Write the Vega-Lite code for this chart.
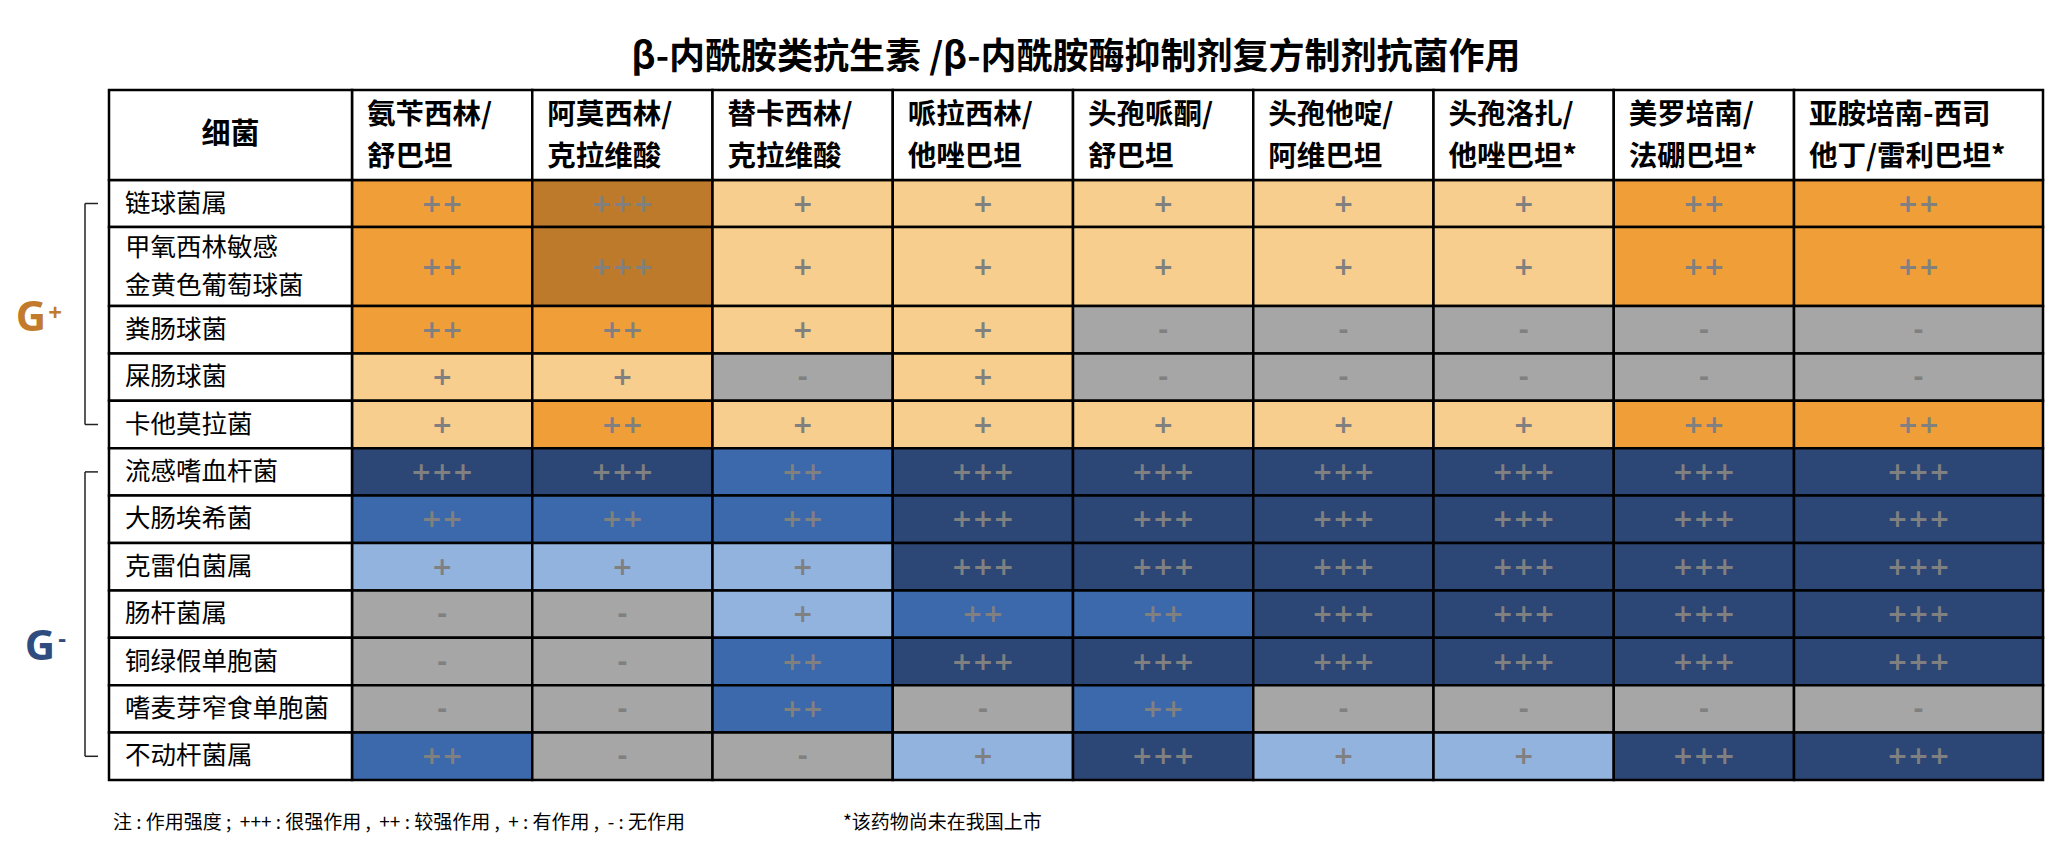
{
  "$schema": "https://vega.github.io/schema/vega-lite/v6.json",
  "width": 1934,
  "height": 690,
  "autosize": {"type": "none"},
  "padding": {"left": 109, "top": 90, "right": 19, "bottom": 68},
  "background": "white",
  "config": {
    "view": {"stroke": null},
    "font": "Noto Sans CJK SC",
    "axis": {"disable": true},
    "legend": {"disable": true}
  },
  "title": {
    "text": "β-内酰胺类抗生素 /β-内酰胺酶抑制剂复方制剂抗菌作用",
    "font": "Noto Sans CJK SC",
    "fontSize": 36,
    "fontWeight": "bold",
    "color": "#000000",
    "anchor": "middle",
    "offset": 12
  },
  "data": {
    "values": [
      {"bacteria": "链球菌属", "group": "G+", "drug": "氨苄西林/\n舒巴坦", "effect": "++"},
      {"bacteria": "链球菌属", "group": "G+", "drug": "阿莫西林/\n克拉维酸", "effect": "+++"},
      {"bacteria": "链球菌属", "group": "G+", "drug": "替卡西林/\n克拉维酸", "effect": "+"},
      {"bacteria": "链球菌属", "group": "G+", "drug": "哌拉西林/\n他唑巴坦", "effect": "+"},
      {"bacteria": "链球菌属", "group": "G+", "drug": "头孢哌酮/\n舒巴坦", "effect": "+"},
      {"bacteria": "链球菌属", "group": "G+", "drug": "头孢他啶/\n阿维巴坦", "effect": "+"},
      {"bacteria": "链球菌属", "group": "G+", "drug": "头孢洛扎/\n他唑巴坦*", "effect": "+"},
      {"bacteria": "链球菌属", "group": "G+", "drug": "美罗培南/\n法硼巴坦*", "effect": "++"},
      {"bacteria": "链球菌属", "group": "G+", "drug": "亚胺培南-西司\n他丁/雷利巴坦*", "effect": "++"},

      {"bacteria": "甲氧西林敏感\n金黄色葡萄球菌", "group": "G+", "drug": "氨苄西林/\n舒巴坦", "effect": "++"},
      {"bacteria": "甲氧西林敏感\n金黄色葡萄球菌", "group": "G+", "drug": "阿莫西林/\n克拉维酸", "effect": "+++"},
      {"bacteria": "甲氧西林敏感\n金黄色葡萄球菌", "group": "G+", "drug": "替卡西林/\n克拉维酸", "effect": "+"},
      {"bacteria": "甲氧西林敏感\n金黄色葡萄球菌", "group": "G+", "drug": "哌拉西林/\n他唑巴坦", "effect": "+"},
      {"bacteria": "甲氧西林敏感\n金黄色葡萄球菌", "group": "G+", "drug": "头孢哌酮/\n舒巴坦", "effect": "+"},
      {"bacteria": "甲氧西林敏感\n金黄色葡萄球菌", "group": "G+", "drug": "头孢他啶/\n阿维巴坦", "effect": "+"},
      {"bacteria": "甲氧西林敏感\n金黄色葡萄球菌", "group": "G+", "drug": "头孢洛扎/\n他唑巴坦*", "effect": "+"},
      {"bacteria": "甲氧西林敏感\n金黄色葡萄球菌", "group": "G+", "drug": "美罗培南/\n法硼巴坦*", "effect": "++"},
      {"bacteria": "甲氧西林敏感\n金黄色葡萄球菌", "group": "G+", "drug": "亚胺培南-西司\n他丁/雷利巴坦*", "effect": "++"},

      {"bacteria": "粪肠球菌", "group": "G+", "drug": "氨苄西林/\n舒巴坦", "effect": "++"},
      {"bacteria": "粪肠球菌", "group": "G+", "drug": "阿莫西林/\n克拉维酸", "effect": "++"},
      {"bacteria": "粪肠球菌", "group": "G+", "drug": "替卡西林/\n克拉维酸", "effect": "+"},
      {"bacteria": "粪肠球菌", "group": "G+", "drug": "哌拉西林/\n他唑巴坦", "effect": "+"},
      {"bacteria": "粪肠球菌", "group": "G+", "drug": "头孢哌酮/\n舒巴坦", "effect": "-"},
      {"bacteria": "粪肠球菌", "group": "G+", "drug": "头孢他啶/\n阿维巴坦", "effect": "-"},
      {"bacteria": "粪肠球菌", "group": "G+", "drug": "头孢洛扎/\n他唑巴坦*", "effect": "-"},
      {"bacteria": "粪肠球菌", "group": "G+", "drug": "美罗培南/\n法硼巴坦*", "effect": "-"},
      {"bacteria": "粪肠球菌", "group": "G+", "drug": "亚胺培南-西司\n他丁/雷利巴坦*", "effect": "-"},

      {"bacteria": "屎肠球菌", "group": "G+", "drug": "氨苄西林/\n舒巴坦", "effect": "+"},
      {"bacteria": "屎肠球菌", "group": "G+", "drug": "阿莫西林/\n克拉维酸", "effect": "+"},
      {"bacteria": "屎肠球菌", "group": "G+", "drug": "替卡西林/\n克拉维酸", "effect": "-"},
      {"bacteria": "屎肠球菌", "group": "G+", "drug": "哌拉西林/\n他唑巴坦", "effect": "+"},
      {"bacteria": "屎肠球菌", "group": "G+", "drug": "头孢哌酮/\n舒巴坦", "effect": "-"},
      {"bacteria": "屎肠球菌", "group": "G+", "drug": "头孢他啶/\n阿维巴坦", "effect": "-"},
      {"bacteria": "屎肠球菌", "group": "G+", "drug": "头孢洛扎/\n他唑巴坦*", "effect": "-"},
      {"bacteria": "屎肠球菌", "group": "G+", "drug": "美罗培南/\n法硼巴坦*", "effect": "-"},
      {"bacteria": "屎肠球菌", "group": "G+", "drug": "亚胺培南-西司\n他丁/雷利巴坦*", "effect": "-"},

      {"bacteria": "卡他莫拉菌", "group": "G+", "drug": "氨苄西林/\n舒巴坦", "effect": "+"},
      {"bacteria": "卡他莫拉菌", "group": "G+", "drug": "阿莫西林/\n克拉维酸", "effect": "++"},
      {"bacteria": "卡他莫拉菌", "group": "G+", "drug": "替卡西林/\n克拉维酸", "effect": "+"},
      {"bacteria": "卡他莫拉菌", "group": "G+", "drug": "哌拉西林/\n他唑巴坦", "effect": "+"},
      {"bacteria": "卡他莫拉菌", "group": "G+", "drug": "头孢哌酮/\n舒巴坦", "effect": "+"},
      {"bacteria": "卡他莫拉菌", "group": "G+", "drug": "头孢他啶/\n阿维巴坦", "effect": "+"},
      {"bacteria": "卡他莫拉菌", "group": "G+", "drug": "头孢洛扎/\n他唑巴坦*", "effect": "+"},
      {"bacteria": "卡他莫拉菌", "group": "G+", "drug": "美罗培南/\n法硼巴坦*", "effect": "++"},
      {"bacteria": "卡他莫拉菌", "group": "G+", "drug": "亚胺培南-西司\n他丁/雷利巴坦*", "effect": "++"},

      {"bacteria": "流感嗜血杆菌", "group": "G-", "drug": "氨苄西林/\n舒巴坦", "effect": "+++"},
      {"bacteria": "流感嗜血杆菌", "group": "G-", "drug": "阿莫西林/\n克拉维酸", "effect": "+++"},
      {"bacteria": "流感嗜血杆菌", "group": "G-", "drug": "替卡西林/\n克拉维酸", "effect": "++"},
      {"bacteria": "流感嗜血杆菌", "group": "G-", "drug": "哌拉西林/\n他唑巴坦", "effect": "+++"},
      {"bacteria": "流感嗜血杆菌", "group": "G-", "drug": "头孢哌酮/\n舒巴坦", "effect": "+++"},
      {"bacteria": "流感嗜血杆菌", "group": "G-", "drug": "头孢他啶/\n阿维巴坦", "effect": "+++"},
      {"bacteria": "流感嗜血杆菌", "group": "G-", "drug": "头孢洛扎/\n他唑巴坦*", "effect": "+++"},
      {"bacteria": "流感嗜血杆菌", "group": "G-", "drug": "美罗培南/\n法硼巴坦*", "effect": "+++"},
      {"bacteria": "流感嗜血杆菌", "group": "G-", "drug": "亚胺培南-西司\n他丁/雷利巴坦*", "effect": "+++"},

      {"bacteria": "大肠埃希菌", "group": "G-", "drug": "氨苄西林/\n舒巴坦", "effect": "++"},
      {"bacteria": "大肠埃希菌", "group": "G-", "drug": "阿莫西林/\n克拉维酸", "effect": "++"},
      {"bacteria": "大肠埃希菌", "group": "G-", "drug": "替卡西林/\n克拉维酸", "effect": "++"},
      {"bacteria": "大肠埃希菌", "group": "G-", "drug": "哌拉西林/\n他唑巴坦", "effect": "+++"},
      {"bacteria": "大肠埃希菌", "group": "G-", "drug": "头孢哌酮/\n舒巴坦", "effect": "+++"},
      {"bacteria": "大肠埃希菌", "group": "G-", "drug": "头孢他啶/\n阿维巴坦", "effect": "+++"},
      {"bacteria": "大肠埃希菌", "group": "G-", "drug": "头孢洛扎/\n他唑巴坦*", "effect": "+++"},
      {"bacteria": "大肠埃希菌", "group": "G-", "drug": "美罗培南/\n法硼巴坦*", "effect": "+++"},
      {"bacteria": "大肠埃希菌", "group": "G-", "drug": "亚胺培南-西司\n他丁/雷利巴坦*", "effect": "+++"},

      {"bacteria": "克雷伯菌属", "group": "G-", "drug": "氨苄西林/\n舒巴坦", "effect": "+"},
      {"bacteria": "克雷伯菌属", "group": "G-", "drug": "阿莫西林/\n克拉维酸", "effect": "+"},
      {"bacteria": "克雷伯菌属", "group": "G-", "drug": "替卡西林/\n克拉维酸", "effect": "+"},
      {"bacteria": "克雷伯菌属", "group": "G-", "drug": "哌拉西林/\n他唑巴坦", "effect": "+++"},
      {"bacteria": "克雷伯菌属", "group": "G-", "drug": "头孢哌酮/\n舒巴坦", "effect": "+++"},
      {"bacteria": "克雷伯菌属", "group": "G-", "drug": "头孢他啶/\n阿维巴坦", "effect": "+++"},
      {"bacteria": "克雷伯菌属", "group": "G-", "drug": "头孢洛扎/\n他唑巴坦*", "effect": "+++"},
      {"bacteria": "克雷伯菌属", "group": "G-", "drug": "美罗培南/\n法硼巴坦*", "effect": "+++"},
      {"bacteria": "克雷伯菌属", "group": "G-", "drug": "亚胺培南-西司\n他丁/雷利巴坦*", "effect": "+++"},

      {"bacteria": "肠杆菌属", "group": "G-", "drug": "氨苄西林/\n舒巴坦", "effect": "-"},
      {"bacteria": "肠杆菌属", "group": "G-", "drug": "阿莫西林/\n克拉维酸", "effect": "-"},
      {"bacteria": "肠杆菌属", "group": "G-", "drug": "替卡西林/\n克拉维酸", "effect": "+"},
      {"bacteria": "肠杆菌属", "group": "G-", "drug": "哌拉西林/\n他唑巴坦", "effect": "++"},
      {"bacteria": "肠杆菌属", "group": "G-", "drug": "头孢哌酮/\n舒巴坦", "effect": "++"},
      {"bacteria": "肠杆菌属", "group": "G-", "drug": "头孢他啶/\n阿维巴坦", "effect": "+++"},
      {"bacteria": "肠杆菌属", "group": "G-", "drug": "头孢洛扎/\n他唑巴坦*", "effect": "+++"},
      {"bacteria": "肠杆菌属", "group": "G-", "drug": "美罗培南/\n法硼巴坦*", "effect": "+++"},
      {"bacteria": "肠杆菌属", "group": "G-", "drug": "亚胺培南-西司\n他丁/雷利巴坦*", "effect": "+++"},

      {"bacteria": "铜绿假单胞菌", "group": "G-", "drug": "氨苄西林/\n舒巴坦", "effect": "-"},
      {"bacteria": "铜绿假单胞菌", "group": "G-", "drug": "阿莫西林/\n克拉维酸", "effect": "-"},
      {"bacteria": "铜绿假单胞菌", "group": "G-", "drug": "替卡西林/\n克拉维酸", "effect": "++"},
      {"bacteria": "铜绿假单胞菌", "group": "G-", "drug": "哌拉西林/\n他唑巴坦", "effect": "+++"},
      {"bacteria": "铜绿假单胞菌", "group": "G-", "drug": "头孢哌酮/\n舒巴坦", "effect": "+++"},
      {"bacteria": "铜绿假单胞菌", "group": "G-", "drug": "头孢他啶/\n阿维巴坦", "effect": "+++"},
      {"bacteria": "铜绿假单胞菌", "group": "G-", "drug": "头孢洛扎/\n他唑巴坦*", "effect": "+++"},
      {"bacteria": "铜绿假单胞菌", "group": "G-", "drug": "美罗培南/\n法硼巴坦*", "effect": "+++"},
      {"bacteria": "铜绿假单胞菌", "group": "G-", "drug": "亚胺培南-西司\n他丁/雷利巴坦*", "effect": "+++"},

      {"bacteria": "嗜麦芽窄食单胞菌", "group": "G-", "drug": "氨苄西林/\n舒巴坦", "effect": "-"},
      {"bacteria": "嗜麦芽窄食单胞菌", "group": "G-", "drug": "阿莫西林/\n克拉维酸", "effect": "-"},
      {"bacteria": "嗜麦芽窄食单胞菌", "group": "G-", "drug": "替卡西林/\n克拉维酸", "effect": "++"},
      {"bacteria": "嗜麦芽窄食单胞菌", "group": "G-", "drug": "哌拉西林/\n他唑巴坦", "effect": "-"},
      {"bacteria": "嗜麦芽窄食单胞菌", "group": "G-", "drug": "头孢哌酮/\n舒巴坦", "effect": "++"},
      {"bacteria": "嗜麦芽窄食单胞菌", "group": "G-", "drug": "头孢他啶/\n阿维巴坦", "effect": "-"},
      {"bacteria": "嗜麦芽窄食单胞菌", "group": "G-", "drug": "头孢洛扎/\n他唑巴坦*", "effect": "-"},
      {"bacteria": "嗜麦芽窄食单胞菌", "group": "G-", "drug": "美罗培南/\n法硼巴坦*", "effect": "-"},
      {"bacteria": "嗜麦芽窄食单胞菌", "group": "G-", "drug": "亚胺培南-西司\n他丁/雷利巴坦*", "effect": "-"},

      {"bacteria": "不动杆菌属", "group": "G-", "drug": "氨苄西林/\n舒巴坦", "effect": "++"},
      {"bacteria": "不动杆菌属", "group": "G-", "drug": "阿莫西林/\n克拉维酸", "effect": "-"},
      {"bacteria": "不动杆菌属", "group": "G-", "drug": "替卡西林/\n克拉维酸", "effect": "-"},
      {"bacteria": "不动杆菌属", "group": "G-", "drug": "哌拉西林/\n他唑巴坦", "effect": "+"},
      {"bacteria": "不动杆菌属", "group": "G-", "drug": "头孢哌酮/\n舒巴坦", "effect": "+++"},
      {"bacteria": "不动杆菌属", "group": "G-", "drug": "头孢他啶/\n阿维巴坦", "effect": "+"},
      {"bacteria": "不动杆菌属", "group": "G-", "drug": "头孢洛扎/\n他唑巴坦*", "effect": "+"},
      {"bacteria": "不动杆菌属", "group": "G-", "drug": "美罗培南/\n法硼巴坦*", "effect": "+++"},
      {"bacteria": "不动杆菌属", "group": "G-", "drug": "亚胺培南-西司\n他丁/雷利巴坦*", "effect": "+++"}
    ]
  },
  "transform": [
    {"window": [{"op": "row_number", "as": "ci"}], "groupby": ["bacteria"]},
    {"window": [{"op": "row_number", "as": "ri"}], "groupby": ["drug"]},
    {"calculate": "datum.ci + 1", "as": "ci2"},
    {"calculate": "datum.ri + 1", "as": "ri2"},
    {"calculate": "datum.ci + 0.5", "as": "cm"},
    {"calculate": "datum.ri + 0.5", "as": "rm"},
    {"calculate": "datum.group + '|' + datum.effect", "as": "key"}
  ],
  "layer": [
    {
      "mark": {"type": "rect", "stroke": "#000000", "strokeWidth": 2.5},
      "encoding": {
        "x": {"field": "ci", "type": "quantitative", "scale": {"domain": [0, 1, 9, 10], "range": [0, 243, 1685, 1934], "zero": false, "nice": false}},
        "x2": {"field": "ci2"},
        "y": {"field": "ri", "type": "quantitative", "scale": {"domain": [0, 1, 2, 3, 13], "range": [0, 90, 137, 216, 690], "zero": false, "nice": false}},
        "y2": {"field": "ri2"},
        "fill": {
          "field": "key",
          "type": "nominal",
          "scale": {
            "domain": ["G+|+++", "G+|++", "G+|+", "G+|-", "G-|+++", "G-|++", "G-|+", "G-|-"],
            "range": ["#BD7A2B", "#F09F38", "#F7CE8D", "#A6A6A6", "#2C4675", "#3C68AC", "#93B3DF", "#A6A6A6"]
          }
        }
      }
    },
    {
      "mark": {"type": "text", "font": "DejaVu Sans", "fontWeight": "bold", "fontSize": 25, "color": "#808080", "align": "center", "baseline": "middle"},
      "encoding": {
        "x": {"field": "cm", "type": "quantitative"},
        "y": {"field": "rm", "type": "quantitative"},
        "text": {"field": "effect"}
      }
    },
    {
      "transform": [{"filter": "datum.ri == 1"}],
      "mark": {"type": "rect", "fill": "#FFFFFF", "stroke": "#000000", "strokeWidth": 2.5},
      "encoding": {
        "x": {"field": "ci", "type": "quantitative"},
        "x2": {"field": "ci2"},
        "y": {"datum": 0, "type": "quantitative"},
        "y2": {"datum": 1}
      }
    },
    {
      "transform": [{"filter": "datum.ri == 1"}],
      "mark": {"type": "text", "align": "left", "baseline": "middle", "dx": 15, "dy": -20, "fontSize": 28.5, "fontWeight": "bold", "lineBreak": "\n", "lineHeight": 42, "color": "#000000"},
      "encoding": {
        "x": {"field": "ci", "type": "quantitative"},
        "y": {"datum": 0.5, "type": "quantitative"},
        "text": {"field": "drug"}
      }
    },
    {
      "transform": [{"filter": "datum.ci == 1"}],
      "mark": {"type": "rect", "fill": "#FFFFFF", "stroke": "#000000", "strokeWidth": 2.5},
      "encoding": {
        "x": {"datum": 0, "type": "quantitative"},
        "x2": {"datum": 1},
        "y": {"field": "ri", "type": "quantitative"},
        "y2": {"field": "ri2"}
      }
    },
    {
      "transform": [{"filter": "datum.ci == 1 && indexof(datum.bacteria, '\\n') < 0"}],
      "mark": {"type": "text", "align": "left", "baseline": "middle", "dx": 16, "fontSize": 25.5, "color": "#000000"},
      "encoding": {
        "x": {"datum": 0, "type": "quantitative"},
        "y": {"field": "rm", "type": "quantitative"},
        "text": {"field": "bacteria"}
      }
    },
    {
      "transform": [{"filter": "datum.ci == 1 && indexof(datum.bacteria, '\\n') >= 0"}],
      "mark": {"type": "text", "align": "left", "baseline": "middle", "dx": 16, "dy": -18.5, "fontSize": 25.5, "lineBreak": "\n", "lineHeight": 37.5, "color": "#000000"},
      "encoding": {
        "x": {"datum": 0, "type": "quantitative"},
        "y": {"field": "rm", "type": "quantitative"},
        "text": {"field": "bacteria"}
      }
    },
    {
      "transform": [{"filter": "datum.ci == 1 && datum.ri == 1"}],
      "mark": {"type": "rect", "fill": "#FFFFFF", "stroke": "#000000", "strokeWidth": 2.5},
      "encoding": {
        "x": {"datum": 0, "type": "quantitative"},
        "x2": {"datum": 1},
        "y": {"datum": 0, "type": "quantitative"},
        "y2": {"datum": 1}
      }
    },
    {
      "transform": [{"filter": "datum.ci == 1 && datum.ri == 1"}],
      "mark": {"type": "text", "align": "center", "baseline": "middle", "fontSize": 29, "fontWeight": "bold", "color": "#000000"},
      "encoding": {
        "x": {"datum": 0.5, "type": "quantitative"},
        "y": {"datum": 0.5, "type": "quantitative"},
        "text": {"value": "细菌"}
      }
    },
    {
      "transform": [
        {"filter": "datum.ci == 1"},
        {"aggregate": [{"op": "min", "field": "rm", "as": "r0"}, {"op": "max", "field": "rm", "as": "r1"}], "groupby": ["group"]}
      ],
      "mark": {"type": "rule", "color": "#222222", "strokeWidth": 1.5, "xOffset": -24},
      "encoding": {
        "x": {"datum": 0, "type": "quantitative"},
        "y": {"field": "r0", "type": "quantitative"},
        "y2": {"field": "r1"}
      }
    },
    {
      "transform": [
        {"filter": "datum.ci == 1"},
        {"aggregate": [{"op": "min", "field": "rm", "as": "r0"}, {"op": "max", "field": "rm", "as": "r1"}], "groupby": ["group"]},
        {"fold": ["r0", "r1"], "as": ["end", "rv"]}
      ],
      "mark": {"type": "rule", "color": "#222222", "strokeWidth": 1.5, "xOffset": -24, "x2Offset": -11},
      "encoding": {
        "x": {"datum": 0, "type": "quantitative"},
        "x2": {"datum": 0},
        "y": {"field": "rv", "type": "quantitative"}
      }
    },
    {
      "transform": [
        {"filter": "datum.ci == 1 && datum.group == 'G+'"},
        {"aggregate": [{"op": "mean", "field": "rm", "as": "rc"}], "groupby": ["group"]},
        {"calculate": "substring(datum.group, 0, 1)", "as": "letter"}
      ],
      "mark": {"type": "text", "font": "Open Sans", "fontWeight": "bold", "fontSize": 42, "color": "#C27B2C", "align": "center", "baseline": "middle", "dx": -78, "dy": -12},
      "encoding": {
        "x": {"datum": 0, "type": "quantitative"},
        "y": {"field": "rc", "type": "quantitative"},
        "text": {"field": "letter"}
      }
    },
    {
      "transform": [
        {"filter": "datum.ci == 1 && datum.group == 'G+'"},
        {"aggregate": [{"op": "mean", "field": "rm", "as": "rc"}], "groupby": ["group"]},
        {"calculate": "substring(datum.group, 1, 2)", "as": "sign"}
      ],
      "mark": {"type": "text", "font": "Open Sans", "fontWeight": "bold", "fontSize": 24, "color": "#C27B2C", "align": "center", "baseline": "middle", "dx": -54, "dy": -16},
      "encoding": {
        "x": {"datum": 0, "type": "quantitative"},
        "y": {"field": "rc", "type": "quantitative"},
        "text": {"field": "sign"}
      }
    },
    {
      "transform": [
        {"filter": "datum.ci == 1 && datum.group == 'G-'"},
        {"aggregate": [{"op": "mean", "field": "rm", "as": "rc"}], "groupby": ["group"]},
        {"calculate": "substring(datum.group, 0, 1)", "as": "letter"}
      ],
      "mark": {"type": "text", "font": "Open Sans", "fontWeight": "bold", "fontSize": 42, "color": "#2E4C7E", "align": "center", "baseline": "middle", "dx": -69, "dy": 33},
      "encoding": {
        "x": {"datum": 0, "type": "quantitative"},
        "y": {"field": "rc", "type": "quantitative"},
        "text": {"field": "letter"}
      }
    },
    {
      "transform": [
        {"filter": "datum.ci == 1 && datum.group == 'G-'"},
        {"aggregate": [{"op": "mean", "field": "rm", "as": "rc"}], "groupby": ["group"]},
        {"calculate": "substring(datum.group, 1, 2)", "as": "sign"}
      ],
      "mark": {"type": "text", "font": "Open Sans", "fontWeight": "bold", "fontSize": 24, "color": "#2E4C7E", "align": "center", "baseline": "middle", "dx": -47, "dy": 26},
      "encoding": {
        "x": {"datum": 0, "type": "quantitative"},
        "y": {"field": "rc", "type": "quantitative"},
        "text": {"field": "sign"}
      }
    },
    {
      "transform": [{"filter": "datum.ci == 1 && datum.ri == 1"}],
      "mark": {"type": "text", "align": "left", "baseline": "middle", "fontSize": 19, "color": "#000000", "dx": 4, "dy": 43},
      "encoding": {
        "x": {"datum": 0, "type": "quantitative"},
        "y": {"datum": 13, "type": "quantitative"},
        "text": {"value": "注 : 作用强度 ;\u00a0 +++ : 很强作用 ,\u00a0 ++ : 较强作用 ,\u00a0 + : 有作用 ,\u00a0 - : 无作用"}
      }
    },
    {
      "transform": [{"filter": "datum.ci == 1 && datum.ri == 1"}],
      "mark": {"type": "text", "align": "left", "baseline": "middle", "fontSize": 19, "color": "#000000", "dx": 734, "dy": 43},
      "encoding": {
        "x": {"datum": 0, "type": "quantitative"},
        "y": {"datum": 13, "type": "quantitative"},
        "text": {"value": "*该药物尚未在我国上市"}
      }
    }
  ]
}
